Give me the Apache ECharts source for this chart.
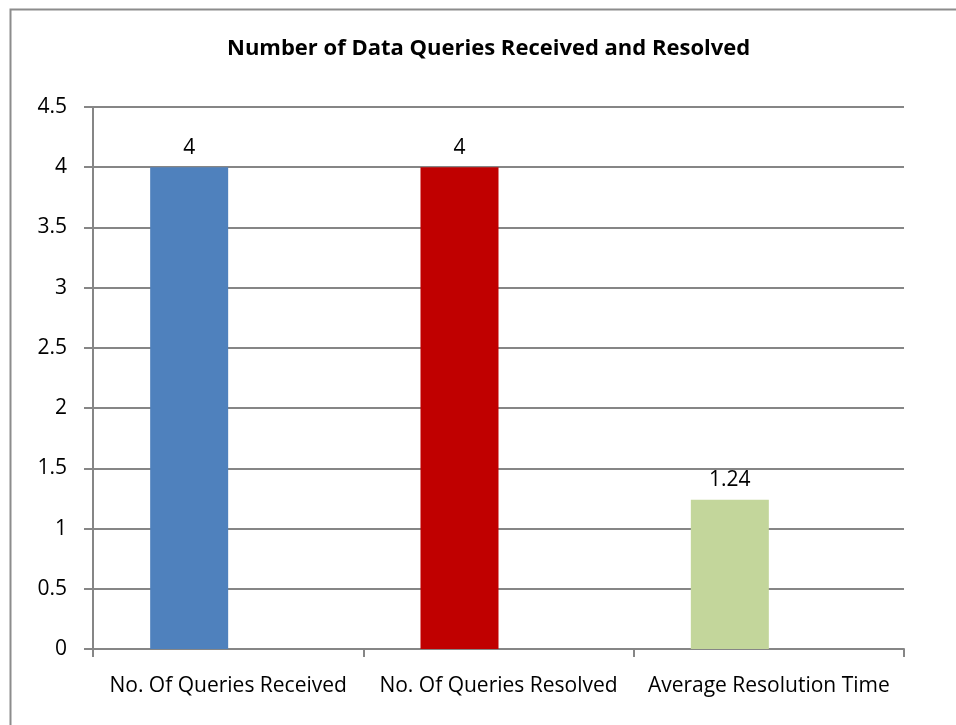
<!DOCTYPE html>
<html>
<head>
<meta charset="utf-8">
<script src="https://cdn.jsdelivr.net/npm/echarts@6/dist/echarts.min.js"></script>
<style>
    html, body { margin: 0; padding: 0; background: #fff; }
    #chart { width: 956px; height: 725px; }
</style>
</head>
<body>
<div id="chart"></div>
<script>
var categories = ['No. Of Queries Received', 'No. Of Queries Resolved', 'Average Resolution Time'];
var values = [4, 4, 1.24];
var emptyValues = [null, null, null];
var barColors = ['#4f81bd', '#c00000', '#c3d69b'];
var yTicks = { min: 0, max: 4.5, interval: 0.5 };

var myChart = echarts.init(document.getElementById('chart'));
var option = {
    backgroundColor: '#fff',
    animation: false,
    title: {
        text: 'Number of Data Queries Received and Resolved',
        left: 222,
        top: 33,
        textStyle: {
            fontFamily: 'Open Sans',
            fontWeight: 'bold',
            fontSize: 22,
            color: '#000'
        }
    },
    graphic: [{
        type: 'rect',
        shape: { x: 10.5, y: 9.5, width: 1000, height: 1000 },
        style: { fill: 'none', stroke: '#8c8c8c', lineWidth: 2 }
    }],
    grid: {
        left: 93,
        right: 52,
        top: 107,
        bottom: 76
    },
    xAxis: {
        type: 'category',
        data: categories,
        axisLine: { lineStyle: { color: '#868686', width: 2 } },
        axisTick: { show: true, length: 8, lineStyle: { color: '#868686', width: 2 } },
        axisLabel: {
            interval: 0,
            margin: 27,
            fontFamily: 'Open Sans',
            fontSize: 21,
            color: '#000'
        }
    },
    yAxis: {
        type: 'value',
        min: yTicks.min,
        max: yTicks.max,
        interval: yTicks.interval,
        axisLine: { show: true, lineStyle: { color: '#868686', width: 2 } },
        axisTick: { show: true, length: 9, lineStyle: { color: '#868686', width: 2 } },
        splitLine: { lineStyle: { color: '#868686', width: 2 } },
        axisLabel: {
            margin: 26,
            fontFamily: 'Open Sans',
            fontSize: 21,
            color: '#000'
        }
    },
    series: [{
        type: 'bar',
        barWidth: 78,
        barGap: '0%',
        data: values.map(function (v, i) {
            return { value: v, itemStyle: { color: barColors[i] } };
        }),
        label: {
            show: true,
            position: 'top',
            distance: 9,
            fontFamily: 'Open Sans',
            fontSize: 21,
            color: '#000'
        }
    }, {
        // empty series, keeps the real bars left of the category centre
        type: 'bar',
        barWidth: 78,
        barGap: '0%',
        data: emptyValues
    }]
};
myChart.setOption(option);
</script>
</body>
</html>
